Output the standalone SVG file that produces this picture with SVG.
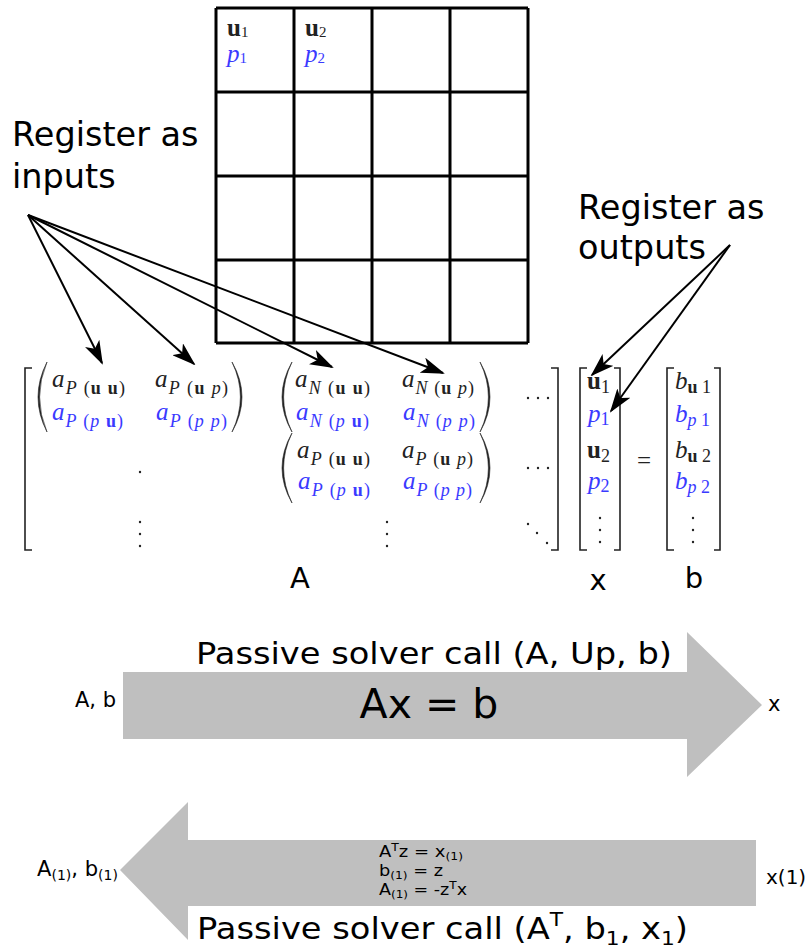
<svg xmlns="http://www.w3.org/2000/svg" width="810" height="952" viewBox="0 0 810 952">
<defs>
<style>
.lbl{font-family:"DejaVu Sans","Liberation Sans",sans-serif;fill:#000}
.m{font-family:"Liberation Serif","DejaVu Serif",serif;font-style:italic;font-size:25px;fill:#222}
.blue{fill:#3a3aff}
.s{font-size:18px}
.bf{font-weight:bold;font-style:normal}
.rm{font-style:normal}
.grid{stroke:#000;stroke-width:3;fill:none}
.br{stroke:#222;stroke-width:1.6;fill:none}
.paren{fill:#222;stroke:#222;stroke-width:0.6}
.con{stroke:#000;stroke-width:2;fill:none;marker-end:url(#ah)}
.big{fill:#bfbfbf}
</style>
<marker id="ah" viewBox="0 0 24 16" refX="22" refY="8" markerWidth="24" markerHeight="16" markerUnits="userSpaceOnUse" orient="auto">
<path d="M24,8 L0,0 L6,8 L0,16 Z" fill="#000"/>
</marker>
</defs>
<rect width="810" height="952" fill="#fff"/>

<g id="grid">
<path class="grid" d="M216,8 H528 M216,92 H528 M216,176 H528 M216,260 H528 M216,343 H528 M216,8 V343 M294,8 V343 M372,8 V343 M450,8 V343 M528,8 V343"/>
<text class="m" x="227" y="36" font-size="22"><tspan class="bf">u</tspan><tspan class="rm" font-size="15" dy="1">1</tspan></text>
<text class="m blue" x="227" y="62" font-size="22">p<tspan class="rm" font-size="15" dy="1">1</tspan></text>
<text class="m" x="305" y="36" font-size="22"><tspan class="bf">u</tspan><tspan class="rm" font-size="15" dy="1">2</tspan></text>
<text class="m blue" x="305" y="62" font-size="22">p<tspan class="rm" font-size="15" dy="1">2</tspan></text>
</g>

<g id="label-inputs">
<text class="lbl" x="12" y="146" font-size="33.5">Register as</text>
<text class="lbl" x="12" y="188" font-size="33.5">inputs</text>
</g>
<g id="label-outputs">
<text class="lbl" x="578" y="219" font-size="33.5">Register as</text>
<text class="lbl" x="578" y="259" font-size="33.5">outputs</text>
</g>

<g id="matrix-A">
<path class="br" d="M32,368 H25 V550 H32"/>
<path class="br" d="M551,368 H558 V550 H551"/>
<path class="paren" d="M47,362 Q29,397 47,432 Q32.2,397 47,362 Z"/>
<path class="paren" d="M232,362 Q252,397 232,432 Q248.8,397 232,362 Z"/>
<text class="m" x="52" y="387" textLength="73">a<tspan class="s rm" dy="7"><tspan class="m s">P</tspan> (<tspan class="bf">u u</tspan>)</tspan></text>
<text class="m" x="155" y="387" textLength="73">a<tspan class="s rm" dy="7"><tspan class="m s">P</tspan> (<tspan class="bf">u</tspan> <tspan class="m s">p</tspan>)</tspan></text>
<text class="m blue" x="52" y="420" textLength="71">a<tspan class="s rm" dy="7"><tspan class="m s blue">P</tspan> (<tspan class="m s blue">p</tspan> <tspan class="bf">u</tspan>)</tspan></text>
<text class="m blue" x="156" y="420" textLength="71">a<tspan class="s rm" dy="7"><tspan class="m s blue">P</tspan> (<tspan class="m s blue">p p</tspan>)</tspan></text>
<path class="paren" d="M292,362 Q272,397 292,432 Q275.2,397 292,362 Z"/>
<path class="paren" d="M480,362 Q500,397 480,432 Q496.8,397 480,362 Z"/>
<text class="m" x="295" y="387" textLength="75">a<tspan class="s rm" dy="7"><tspan class="m s">N</tspan> (<tspan class="bf">u u</tspan>)</tspan></text>
<text class="m" x="402" y="387" textLength="72">a<tspan class="s rm" dy="7"><tspan class="m s">N</tspan> (<tspan class="bf">u</tspan> <tspan class="m s">p</tspan>)</tspan></text>
<text class="m blue" x="296" y="420" textLength="73">a<tspan class="s rm" dy="7"><tspan class="m s blue">N</tspan> (<tspan class="m s blue">p</tspan> <tspan class="bf">u</tspan>)</tspan></text>
<text class="m blue" x="403" y="420" textLength="72">a<tspan class="s rm" dy="7"><tspan class="m s blue">N</tspan> (<tspan class="m s blue">p p</tspan>)</tspan></text>
<path class="paren" d="M292,433 Q272,468 292,503 Q275.2,468 292,433 Z"/>
<path class="paren" d="M480,433 Q500,468 480,503 Q496.8,468 480,433 Z"/>
<text class="m" x="297" y="458" textLength="73">a<tspan class="s rm" dy="7"><tspan class="m s">P</tspan> (<tspan class="bf">u u</tspan>)</tspan></text>
<text class="m" x="402" y="458" textLength="71">a<tspan class="s rm" dy="7"><tspan class="m s">P</tspan> (<tspan class="bf">u</tspan> <tspan class="m s">p</tspan>)</tspan></text>
<text class="m blue" x="298" y="489" textLength="72">a<tspan class="s rm" dy="7"><tspan class="m s blue">P</tspan> (<tspan class="m s blue">p</tspan> <tspan class="bf">u</tspan>)</tspan></text>
<text class="m blue" x="403" y="489" textLength="69">a<tspan class="s rm" dy="7"><tspan class="m s blue">P</tspan> (<tspan class="m s blue">p p</tspan>)</tspan></text>
<g fill="#222">
<circle cx="140" cy="472" r="1.2"/>
<circle cx="140" cy="522" r="1.2"/><circle cx="140" cy="534" r="1.2"/><circle cx="140" cy="546" r="1.2"/>
<circle cx="387" cy="522" r="1.2"/><circle cx="387" cy="534" r="1.2"/><circle cx="387" cy="546" r="1.2"/>
<circle cx="528" cy="398" r="1.2"/><circle cx="538" cy="398" r="1.2"/><circle cx="548" cy="398" r="1.2"/>
<circle cx="528" cy="468" r="1.2"/><circle cx="538" cy="468" r="1.2"/><circle cx="548" cy="468" r="1.2"/>
<circle cx="528" cy="524" r="1.2"/><circle cx="537" cy="533" r="1.2"/><circle cx="547" cy="543" r="1.2"/>
</g>
<text class="lbl" x="300" y="588" font-size="29" text-anchor="middle">A</text>
</g>

<g id="vector-x">
<path class="br" d="M587,368 H580 V550 H587"/>
<path class="br" d="M614,368 H620 V550 H614"/>
<text class="m" x="587" y="389"><tspan class="bf">u</tspan><tspan class="s rm" dy="4">1</tspan></text>
<text class="m blue" x="588" y="422">p<tspan class="s rm" dy="3">1</tspan></text>
<text class="m" x="587" y="458"><tspan class="bf">u</tspan><tspan class="s rm" dy="4">2</tspan></text>
<text class="m blue" x="588" y="489">p<tspan class="s rm" dy="3">2</tspan></text>
<g fill="#222"><circle cx="600" cy="518" r="1.2"/><circle cx="600" cy="530" r="1.2"/><circle cx="600" cy="542" r="1.2"/></g>
<text class="lbl" x="598" y="590" font-size="29" text-anchor="middle">x</text>
</g>

<text class="m rm" x="644" y="469" font-size="30" text-anchor="middle">=</text>

<g id="vector-b">
<path class="br" d="M674,368 H667 V550 H674"/>
<path class="br" d="M714,368 H720 V550 H714"/>
<text class="m" x="675" y="389">b<tspan class="s rm" dy="4"><tspan class="bf">u</tspan> 1</tspan></text>
<text class="m blue" x="675" y="422">b<tspan class="s rm" dy="4"><tspan class="m s blue">p</tspan> 1</tspan></text>
<text class="m" x="675" y="458">b<tspan class="s rm" dy="4"><tspan class="bf">u</tspan> 2</tspan></text>
<text class="m blue" x="675" y="489">b<tspan class="s rm" dy="4"><tspan class="m s blue">p</tspan> 2</tspan></text>
<g fill="#222"><circle cx="693" cy="518" r="1.2"/><circle cx="693" cy="530" r="1.2"/><circle cx="693" cy="542" r="1.2"/></g>
<text class="lbl" x="694" y="588" font-size="29" text-anchor="middle">b</text>
</g>

<g id="forward-solve">
<path class="big" d="M123,672 H687 V632 L762,705 L687,777 V739 H123 Z"/>
<text class="lbl" x="196" y="664" font-size="31" textLength="476" lengthAdjust="spacingAndGlyphs">Passive solver call (A, Up, b)</text>
<text class="lbl" x="429" y="718" font-size="41" text-anchor="middle">Ax = b</text>
<text class="lbl" x="75" y="707" font-size="21">A, b</text>
<text class="lbl" x="768" y="711" font-size="21">x</text>
</g>

<g id="adjoint-solve">
<path class="big" d="M756,840 H188 V802 L120,870 L188,940 V906 H756 Z"/>
<text class="lbl" x="379" y="857" font-size="16" textLength="84" lengthAdjust="spacingAndGlyphs">A<tspan font-size="11" dy="-6">T</tspan><tspan dy="6">z = x</tspan><tspan font-size="11" dy="3">(1)</tspan></text>
<text class="lbl" x="379" y="876" font-size="16" textLength="64" lengthAdjust="spacingAndGlyphs">b<tspan font-size="11" dy="3">(1)</tspan><tspan dy="-3"> = z</tspan></text>
<text class="lbl" x="379" y="895" font-size="16" textLength="88" lengthAdjust="spacingAndGlyphs">A<tspan font-size="11" dy="3">(1)</tspan><tspan dy="-3"> = -z</tspan><tspan font-size="11" dy="-6">T</tspan><tspan dy="6">x</tspan></text>
<text class="lbl" x="197" y="939" font-size="31" textLength="491" lengthAdjust="spacingAndGlyphs">Passive solver call (A<tspan font-size="20" dy="-13">T</tspan><tspan dy="13">, b</tspan><tspan font-size="20" dy="6">1</tspan><tspan dy="-6">, x</tspan><tspan font-size="20" dy="6">1</tspan><tspan dy="-6">)</tspan></text>
<text class="lbl" x="37" y="876" font-size="21" textLength="81" lengthAdjust="spacingAndGlyphs">A<tspan font-size="14" dy="4">(1)</tspan><tspan dy="-4">, b</tspan><tspan font-size="14" dy="4">(1)</tspan></text>
<text class="lbl" x="766" y="884" font-size="20">x(1)</text>
</g>

<g id="connectors">
<line class="con" x1="28" y1="215" x2="102" y2="363"/>
<line class="con" x1="28" y1="215" x2="194" y2="364"/>
<line class="con" x1="28" y1="215" x2="332" y2="367"/>
<line class="con" x1="28" y1="215" x2="443" y2="373"/>
<line class="con" x1="730" y1="245" x2="592" y2="375"/>
<line class="con" x1="730" y1="245" x2="611" y2="411"/>
</g>
</svg>
